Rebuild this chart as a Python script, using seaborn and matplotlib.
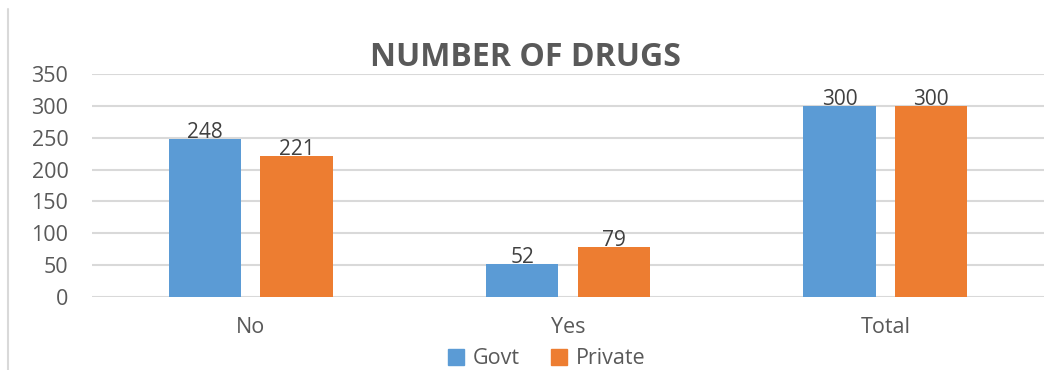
import matplotlib
matplotlib.use("Agg")
import matplotlib.pyplot as plt
import seaborn as sns
import pandas as pd
from matplotlib.lines import Line2D

categories = ["No", "Yes", "Total"]
govt = [248, 52, 300]
private = [221, 79, 300]
series = ["Govt", "Private"]
colors = {"Govt": "#5B9BD5", "Private": "#ED7D31"}

df = pd.DataFrame({
    "cat": categories * 2,
    "value": govt + private,
    "series": ["Govt"] * 3 + ["Private"] * 3,
})

sns.set_style("white")
plt.rcParams["font.family"] = ["Open Sans", "DejaVu Sans"]
TXT = "#595959"

fig = plt.figure(figsize=(10.61, 3.70), dpi=100)
ax = fig.add_axes([0.0867, 0.197, 0.8973, 0.603])

sns.barplot(data=df, x="cat", y="value", hue="series", order=categories,
            hue_order=series, palette=colors, width=0.577, gap=0.21,
            saturation=1, linewidth=0, legend=False, ax=ax)

ax.set_ylim(0, 350)
ax.set_xlim(-0.5, 2.5)
ax.set_yticks(range(0, 351, 50))
ax.yaxis.grid(True, color="#D9D9D9", lw=1.5)
ax.set_axisbelow(True)
for s in ax.spines.values():
    s.set_visible(False)
ax.tick_params(axis="both", length=0, labelsize=15.5, colors=TXT)
ax.tick_params(axis="y", pad=17)
ax.tick_params(axis="x", pad=14)
ax.set_xlabel("")
ax.set_ylabel("")

for c in ax.containers:
    ax.bar_label(c, fontsize=15, color="#404040", padding=-3)

fig.text(0.495, 0.845, "NUMBER OF DRUGS", ha="center", va="center",
         fontsize=23, fontweight="bold", color=TXT)

handles = [Line2D([], [], marker="s", ls="", markersize=11,
                  markerfacecolor=colors[s], markeredgecolor=colors[s]) for s in series]
fig.legend(handles, series, loc="center", bbox_to_anchor=(0.513, 0.03), ncol=2,
           frameon=False, fontsize=15.5, labelcolor=TXT, handletextpad=0.2,
           columnspacing=1.2, handlelength=1.2)

fig.add_artist(Line2D([0.0075, 0.0075], [0.0, 0.975], color="#D9D9D9", lw=1.5))

fig.savefig("out.png", dpi=100)
